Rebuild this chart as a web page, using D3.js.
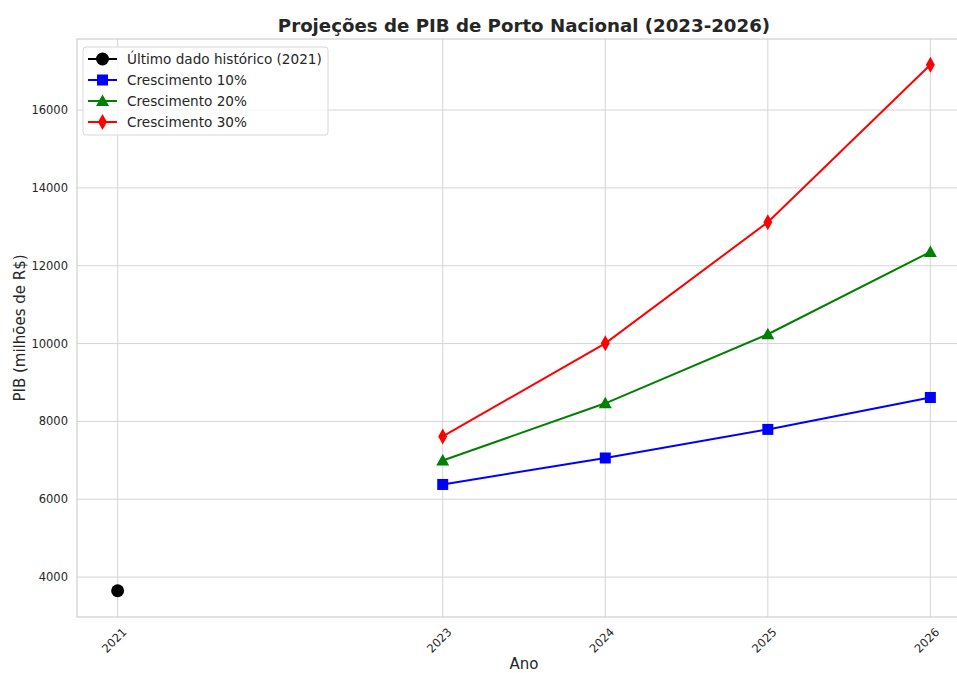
<!DOCTYPE html>
<html>
<head>
<meta charset="utf-8">
<script src="https://cdn.jsdelivr.net/npm/d3@7"></script>
<style>
  body { margin: 0; background: #fff; }
  text { font-family: "DejaVu Sans", sans-serif; fill: #262626; }
</style>
</head>
<body>
<script>
// historical point and projected years
var histYear = [2021];
var histValue = [3650];
var projYears = [2023, 2024, 2025, 2026];
var growth10 = [6380, 7060, 7795, 8615];
var growth20 = [6995, 8465, 10240, 12355];
var growth30 = [7615, 10005, 13120, 17165];
var xTicks = [2021, 2023, 2024, 2025, 2026];
var yTicks = [4000, 6000, 8000, 10000, 12000, 14000, 16000];

var W = 957, H = 673;
var margin = {top: 39, right: -14, bottom: 56, left: 77},
    width = W - margin.left - margin.right,
    height = H - margin.top - margin.bottom;

var x = d3.scaleLinear().domain([2020.75, 2026.25]).range([0, width]);
var y = d3.scaleLinear().domain([2975, 17825]).range([height, 0]);

var svg = d3.select("body").append("svg")
    .attr("width", W)
    .attr("height", H);

var g = svg.append("g")
    .attr("transform", "translate(" + margin.left + "," + margin.top + ")");

// grid
g.selectAll(".gx").data(xTicks).enter().append("line")
    .attr("x1", d => x(d)).attr("x2", d => x(d))
    .attr("y1", 0).attr("y2", height)
    .attr("stroke", "#d5d5d5").attr("stroke-width", 1);
g.selectAll(".gy").data(yTicks).enter().append("line")
    .attr("x1", 0).attr("x2", width)
    .attr("y1", d => y(d)).attr("y2", d => y(d))
    .attr("stroke", "#d5d5d5").attr("stroke-width", 1);

// spines
g.append("rect")
    .attr("width", width).attr("height", height)
    .attr("fill", "none").attr("stroke", "#cfcfcf").attr("stroke-width", 1.2);

// tick labels
g.selectAll(".ty").data(yTicks).enter().append("text")
    .attr("x", -9).attr("y", d => y(d)).attr("dy", "0.35em")
    .attr("text-anchor", "end")
    .style("font-size", "11.5px")
    .text(d => d);

g.selectAll(".tx").data(xTicks).enter().append("text")
    .attr("text-anchor", "end")
    .style("font-size", "11.5px")
    .attr("transform", d => "translate(" + (x(d) + 4) + "," + (height + 10) + ")rotate(-45)")
    .attr("dy", "0.7em")
    .text(d => d);

// axis labels
g.append("text")
    .attr("x", width / 2).attr("y", height + 52)
    .attr("text-anchor", "middle")
    .style("font-size", "15px")
    .text("Ano");

svg.append("text")
    .attr("text-anchor", "middle")
    .style("font-size", "15px")
    .attr("transform", "translate(25," + (margin.top + height / 2) + ")rotate(-90)")
    .text("PIB (milhões de R$)");

// title
svg.append("text")
    .attr("x", margin.left + width / 2).attr("y", 32)
    .attr("text-anchor", "middle")
    .style("font-size", "18.2px").style("font-weight", "bold")
    .text("Projeções de PIB de Porto Nacional (2023-2026)");

var series = [
  {name: "Crescimento 10%", values: growth10, color: "#0000ff", shape: "square"},
  {name: "Crescimento 20%", values: growth20, color: "#008000", shape: "triangle"},
  {name: "Crescimento 30%", values: growth30, color: "#ff0000", shape: "diamond"}
];

var line = d3.line().x(d => x(d[0])).y(d => y(d[1]));

function marker(sel, shape, color) {
  if (shape === "square") {
    sel.append("rect").attr("x", -5.5).attr("y", -5.5).attr("width", 11).attr("height", 11).attr("fill", color);
  } else if (shape === "triangle") {
    sel.append("path").attr("d", "M0,-6.5L6.5,5L-6.5,5Z").attr("fill", color);
  } else if (shape === "diamond") {
    sel.append("path").attr("d", "M0,-8L4.5,0L0,8L-4.5,0Z").attr("fill", color);
  } else {
    sel.append("circle").attr("r", 6.5).attr("fill", color);
  }
}

series.forEach(function(s) {
  var pts = projYears.map((yr, i) => [yr, s.values[i]]);
  g.append("path").datum(pts)
      .attr("d", line)
      .attr("fill", "none").attr("stroke", s.color).attr("stroke-width", 2);
  g.selectAll(null).data(pts).enter().append("g")
      .attr("transform", d => "translate(" + x(d[0]) + "," + y(d[1]) + ")")
      .each(function() { marker(d3.select(this), s.shape, s.color); });
});

g.selectAll(".hist").data(histYear).enter().append("g")
    .attr("transform", (d, i) => "translate(" + x(d) + "," + y(histValue[i]) + ")")
    .each(function() { marker(d3.select(this), "circle", "#000"); });

// legend
var legendItems = [{name: "Último dado histórico (2021)", color: "#000", shape: "circle"}].concat(series);
var lg = svg.append("g").attr("transform", "translate(83,47)");
lg.append("rect")
    .attr("width", 245).attr("height", 88).attr("rx", 3)
    .attr("fill", "#fff").attr("fill-opacity", 0.8)
    .attr("stroke", "#d8d8d8");
legendItems.forEach(function(it, i) {
  var row = lg.append("g").attr("transform", "translate(0," + (12 + i * 21) + ")");
  row.append("line").attr("x1", 5).attr("x2", 34).attr("stroke", it.color).attr("stroke-width", 2);
  marker(row.append("g").attr("transform", "translate(19.5,0)"), it.shape, it.color);
  row.append("text").attr("x", 44).attr("dy", "0.35em")
      .style("font-size", "13.6px").text(it.name);
});
</script>
</body>
</html>
